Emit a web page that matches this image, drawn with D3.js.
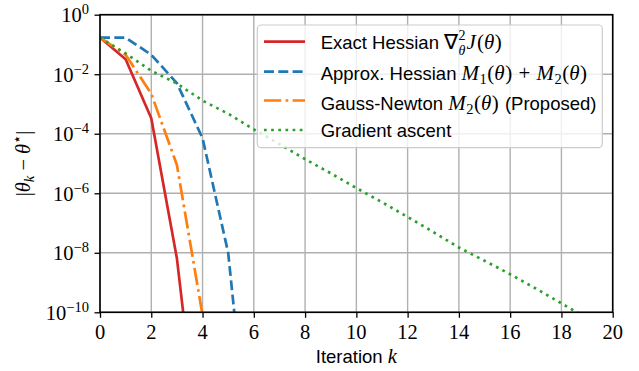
<!DOCTYPE html>
<html>
<head>
<meta charset="utf-8">
<script src="https://cdn.jsdelivr.net/npm/d3@7"></script>
<style>
  body { margin: 0; background: #fff; }
  text { white-space: pre; }
</style>
</head>
<body>
<svg id="chart" width="639" height="371"></svg>
<script>
// Convergence of |theta_k - theta*| per iteration, one array per method (index = iteration k)
const exactHessian   = [1.7e-1, 3.2e-2, 3.3e-4, 6.5e-9, 2.5e-16];
const approxHessian  = [1.7e-1, 1.7e-1, 4.5e-2, 5.0e-3, 7.1e-5, 1.0e-8, 4.0e-17];
const gaussNewton    = [1.7e-1, 4.5e-2, 2.2e-3, 8.9e-6, 8.0e-11];
const gradientAscent = [1.7e-1, 5.0e-2, 1.3e-2, 4.9e-3, 1.3e-3, 4.7e-4, 1.4e-4, 4.5e-5,
                        1.4e-5, 4.7e-6, 1.5e-6, 5.0e-7, 1.6e-7, 5.0e-8, 1.5e-8, 5.4e-9,
                        1.9e-9, 6.3e-10, 2.0e-10, 6.3e-11, 2.0e-11];

const xTicks = [0, 2, 4, 6, 8, 10, 12, 14, 16, 18, 20];
const yTicks = [1, 1e-2, 1e-4, 1e-6, 1e-8, 1e-10];
const yTickExponents = ["0", "\u22122", "\u22124", "\u22126", "\u22128", "\u221210"];

const SANS = "'Liberation Sans', Arial, sans-serif";
const SERIF = "'Liberation Serif', 'Times New Roman', serif";

const plot = { left: 100, right: 612.7, top: 14.7, bottom: 312.3 };

const svg = d3.select("#chart");

const x = d3.scaleLinear().domain([0, 20]).range([plot.left, plot.right]);
const y = d3.scaleLog().domain([1e-10, 1]).range([plot.bottom, plot.top]);

// grid
const grid = svg.append("g");
grid.selectAll("line.gx").data(xTicks).join("line")
  .attr("x1", d => x(d)).attr("x2", d => x(d))
  .attr("y1", plot.top).attr("y2", plot.bottom)
  .attr("stroke", "#b0b0b0").attr("stroke-width", 1.4);
grid.selectAll("line.gy").data(yTicks).join("line")
  .attr("y1", d => y(d)).attr("y2", d => y(d))
  .attr("x1", plot.left).attr("x2", plot.right)
  .attr("stroke", "#b0b0b0").attr("stroke-width", 1.4);

// series
svg.append("defs").append("clipPath").attr("id", "plotClip")
  .append("rect").attr("x", plot.left).attr("y", plot.top)
  .attr("width", plot.right - plot.left).attr("height", plot.bottom - plot.top);

const LW = 2.7;
const series = [
  { name: "exact",  values: exactHessian,   color: "#d62728", dash: null },
  { name: "approx", values: approxHessian,  color: "#1f77b4", dash: [3.7 * LW, 1.6 * LW] },
  { name: "gauss",  values: gaussNewton,    color: "#ff7f0e", dash: [6.4 * LW, 1.6 * LW, 1 * LW, 1.6 * LW] },
  { name: "grad",   values: gradientAscent, color: "#2ca02c", dash: [1 * LW, 1.65 * LW] }
];

const line = d3.line().x((d, i) => x(i)).y(d => y(d));
const lines = svg.append("g").attr("clip-path", "url(#plotClip)");
series.forEach(s => {
  lines.append("path")
    .attr("d", line(s.values))
    .attr("fill", "none")
    .attr("stroke", s.color)
    .attr("stroke-width", LW)
    .attr("stroke-linejoin", "round")
    .attr("stroke-dasharray", s.dash ? s.dash.join(",") : null);
});

// axes
const xAxis = svg.append("g").attr("transform", `translate(0,${plot.bottom})`)
  .call(d3.axisBottom(x).tickValues(xTicks).tickSize(5.5).tickFormat(""));
const yAxis = svg.append("g").attr("transform", `translate(${plot.left},0)`)
  .call(d3.axisLeft(y).tickValues(yTicks).tickSize(5.5).tickFormat(""));
[xAxis, yAxis].forEach(a => {
  a.select(".domain").remove();
  a.selectAll(".tick line").attr("stroke", "#000").attr("stroke-width", 1.3);
});

svg.append("rect")
  .attr("x", plot.left).attr("y", plot.top)
  .attr("width", plot.right - plot.left).attr("height", plot.bottom - plot.top)
  .attr("fill", "none").attr("stroke", "#000").attr("stroke-width", 1.6);

// tick labels
svg.append("g").selectAll("text").data(xTicks).join("text")
  .attr("x", d => x(d)).attr("y", plot.bottom + 27)
  .attr("text-anchor", "middle")
  .attr("font-family", SERIF).attr("font-size", 20.5)
  .text(d => d);

const yLab = svg.append("g").selectAll("text").data(yTicks).join("text")
  .attr("x", 89).attr("y", d => y(d) + 7.5)
  .attr("text-anchor", "end")
  .attr("font-family", SERIF).attr("font-size", 20.5);
yLab.append("tspan").text("10");
yLab.append("tspan").attr("dy", -8).attr("font-size", 14.5)
  .text((d, i) => yTickExponents[i]);

// axis titles
const xt = svg.append("text")
  .attr("x", (plot.left + plot.right) / 2).attr("y", 363)
  .attr("text-anchor", "middle")
  .attr("font-family", SANS).attr("font-size", 18.5);
xt.append("tspan").text("Iteration ");
xt.append("tspan").attr("font-family", SERIF).attr("font-style", "italic").attr("font-size", 20.5).text("k");

const yt = svg.append("text")
  .attr("transform", `translate(30,${(plot.top + plot.bottom) / 2}) rotate(-90)`)
  .attr("text-anchor", "middle")
  .attr("font-family", SERIF).attr("font-size", 20.5);
yt.append("tspan").text("|");
yt.append("tspan").attr("font-style", "italic").text("\u03b8");
yt.append("tspan").attr("font-style", "italic").attr("font-size", 14.5).attr("dy", 4).text("k");
yt.append("tspan").attr("dy", -4).text(" \u2212 ");
yt.append("tspan").attr("font-style", "italic").text("\u03b8");
yt.append("tspan").attr("font-size", 14.5).attr("dy", -8).text("\u22c6");
yt.append("tspan").attr("dy", 8).text("|");

// legend
const legend = svg.append("g");
legend.append("rect")
  .attr("x", 257.3).attr("y", 25).attr("width", 345).attr("height", 122.7)
  .attr("rx", 4).attr("ry", 4)
  .attr("fill", "#fff").attr("fill-opacity", 0.8)
  .attr("stroke", "#cccccc").attr("stroke-width", 1.2);

// lays out a row of mixed sans / math runs left to right; "stack" runs share
// the horizontal start of the previous run (super- and subscript on one base)
function richText(g, x0, yBase, runs) {
  let cx = x0, lastStart = x0;
  runs.forEach(r => {
    const startX = (r.stack ? lastStart : cx) + (r.pad || 0);
    const t = g.append("text")
      .attr("x", startX).attr("y", yBase + (r.shift || 0))
      .attr("font-family", r.serif ? SERIF : SANS)
      .attr("font-style", r.italic ? "italic" : "normal")
      .attr("font-size", r.size || (r.serif ? 21 : 18.5))
      .text(r.t);
    const w = t.node().getComputedTextLength();
    if (r.stack) { cx = Math.max(cx, startX + w); }
    else { lastStart = startX; cx = startX + w + (r.after || 0); }
  });
}

const M = (sub) => [
  { t: "M", serif: true, italic: true, after: 0.5 },
  { t: sub, serif: true, size: 14.5, shift: 4 },
  { t: "(", serif: true, pad: 0.5 },
  { t: "\u03b8", serif: true, italic: true },
  { t: ")", serif: true, pad: 0.5 }
];

const legendRows = [
  { y: 49.3, lineY: 41.7, runs: [
      { t: "Exact Hessian " },
      { t: "\u2207", serif: true },
      { t: "2", serif: true, size: 14, shift: -9, pad: 0.5 },
      { t: "\u03b8", serif: true, italic: true, size: 14, shift: 6, stack: true },
      { t: "J", serif: true, italic: true, pad: 1 },
      { t: "(", serif: true, pad: 1 },
      { t: "\u03b8", serif: true, italic: true },
      { t: ")", serif: true, pad: 0.5 }
  ] },
  { y: 80, lineY: 71.7, runs: [{ t: "Approx. Hessian " }].concat(M("1"), [{ t: " + ", serif: true, pad: 1, after: 1 }], M("2")) },
  { y: 110, lineY: 100.5, runs: [{ t: "Gauss-Newton " }].concat(M("2"), [{ t: " (Proposed)", pad: 1 }]) },
  { y: 136.7, lineY: 130, runs: [{ t: "Gradient ascent" }] }
];

legendRows.forEach((row, i) => {
  const s = series[i];
  legend.append("line")
    .attr("x1", 264).attr("x2", 305)
    .attr("y1", row.lineY).attr("y2", row.lineY)
    .attr("stroke", s.color).attr("stroke-width", LW)
    .attr("stroke-dasharray", s.dash ? s.dash.join(",") : null);
  richText(legend, 320.7, row.y, row.runs);
});
</script>
</body>
</html>
